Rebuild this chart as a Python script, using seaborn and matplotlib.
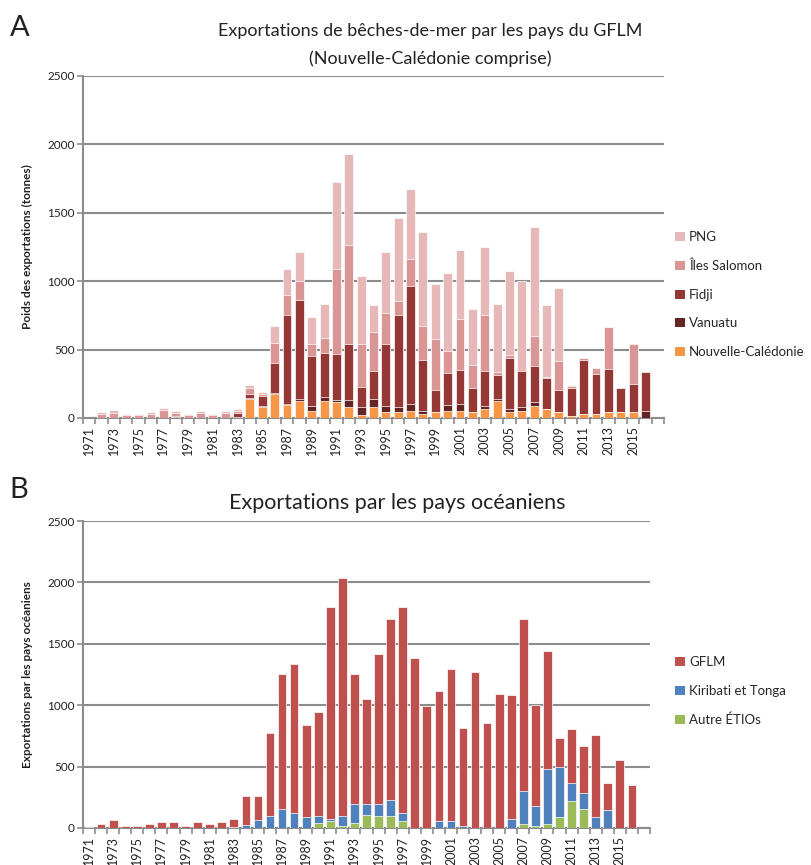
import numpy as np
import pandas as pd
import matplotlib
matplotlib.use("Agg")
import matplotlib.pyplot as plt
import seaborn as sns
from matplotlib.patches import Patch

# ---------------- data ----------------
years = [str(y) for y in range(1971, 2017)] + [""]          # 47 categories, last one blank
tick_labels = [y if i % 2 == 0 else "" for i, y in enumerate(years)]

# Panel A (tonnes)
nc = [0, 0, 0, 0, 0, 0, 0, 0, 0, 0, 0, 0, 0, 140, 78, 178, 93, 127, 54, 127,
      115, 78, 24, 78, 41, 41, 54, 29, 41, 54, 54, 41, 66, 127, 41, 54, 90, 66,
      41, 17, 29, 29, 41, 41, 41, 0, 0]
vanuatu = [0, 0, 0, 0, 0, 0, 0, 4, 0, 0, 0, 0, 8, 8, 10, 5, 12, 10, 37, 24,
           20, 56, 54, 59, 44, 39, 49, 20, 0, 39, 49, 0, 20, 10, 24, 24, 24, 0,
           0, 0, 0, 0, 0, 0, 0, 49, 0]
fidji = [0, 0, 0, 0, 0, 0, 0, 8, 0, 0, 0, 0, 30, 30, 73, 220, 645, 725, 361, 325,
         330, 405, 149, 205, 454, 671, 861, 378, 161, 234, 251, 176, 256, 176, 373,
         264, 263, 225, 161, 203, 398, 295, 320, 176, 210, 290, 0]
salomon = [0, 30, 40, 22, 22, 30, 55, 28, 20, 40, 20, 35, 15, 42, 15, 142, 149, 139,
           88, 112, 625, 722, 312, 285, 225, 107, 200, 249, 376, 163, 373, 171, 410,
           24, 24, 0, 220, 10, 212, 12, 12, 39, 303, 0, 288, 0, 0]
png = [0, 12, 16, 10, 10, 11, 16, 14, 12, 14, 12, 19, 15, 20, 12, 124, 190, 212,
       200, 242, 637, 666, 498, 198, 449, 603, 512, 686, 398, 571, 498, 412, 500,
       493, 610, 659, 800, 525, 537, 12, 0, 0, 0, 0, 0, 0, 0]

# Panel B (tonnes)
gflm = [5, 30, 63, 16, 16, 30, 52, 52, 16, 52, 30, 52, 71, 232, 196, 670, 1098,
        1218, 749, 845, 1728, 1935, 1057, 850, 1218, 1472, 1679, 1382, 992, 1063,
        1238, 799, 1267, 853, 1093, 1006, 1398, 824, 964, 243, 439, 385, 673, 224,
        553, 354, 0]
kiribati_tonga = [0, 0, 0, 0, 0, 0, 0, 0, 0, 0, 0, 0, 5, 27, 63, 101, 158, 120, 87,
                  60, 19, 79, 161, 90, 101, 128, 68, 0, 0, 54, 54, 19, 0, 0, 0, 76,
                  270, 163, 450, 406, 147, 125, 87, 144, 0, 0, 0]
autres = [0, 0, 0, 0, 0, 0, 0, 0, 0, 0, 0, 0, 0, 0, 0, 0, 0, 0, 3, 38, 54, 19, 38,
          109, 98, 98, 54, 0, 0, 0, 0, 0, 0, 0, 0, 0, 30, 16, 30, 87, 218, 158, 0,
          0, 3, 0, 0]

series_a = ["Nouvelle-Calédonie", "Vanuatu", "Fidji", "Îles Salomon", "PNG"]
colors_a = ["#F79646", "#632523", "#953735", "#D99694", "#E6B9B8"]
series_b = ["Autre ÉTIOs", "Kiribati et Tonga", "GFLM"]
colors_b = ["#9BBB59", "#4F81BD", "#C0504D"]

# ---------------- style ----------------
sns.set_theme(style="white")
plt.rcParams["font.family"] = ["Lato", "DejaVu Sans"]

fig = plt.figure(figsize=(8.12, 8.65), dpi=100)
W, H = 812, 865

def axes_px(l, t, r, b):
    return fig.add_axes([l / W, 1 - b / H, (r - l) / W, (b - t) / H])

axA = axes_px(83, 76, 664, 418)
axB = axes_px(83, 521, 650, 828)

GRID = "#8c8c8c"
TXT = "#222222"


def stacked(ax, layers, names, colors):
    df = pd.DataFrame({"annee": years})
    cum = np.zeros(len(years))
    cums = []
    for vals in layers:
        cum = cum + np.array(vals, dtype=float)
        cums.append(cum.copy())
    # draw from top of stack down so lower layers overlay upper ones
    for c, col in zip(cums[::-1], colors[::-1]):
        d = df.assign(v=c)
        sns.barplot(data=d, x="annee", y="v", order=years, color=col,
                    saturation=1, width=0.72, edgecolor="white", linewidth=0.5,
                    ax=ax, zorder=3)


def style_axis(ax, ylab):
    ax.set_ylim(0, 2500)
    ax.set_xlim(-0.5, len(years) - 0.5)
    ax.set_yticks(range(0, 2501, 500))
    ax.set_yticklabels([str(v) for v in range(0, 2501, 500)], fontsize=8.5, color=TXT)
    ax.yaxis.grid(True, color=GRID, linewidth=1.5, zorder=0)
    ax.set_axisbelow(True)
    for s in ["top", "right"]:
        ax.spines[s].set_visible(False)
    for s in ["left", "bottom"]:
        ax.spines[s].set_color(GRID)
        ax.spines[s].set_linewidth(1.5)
    ax.tick_params(axis="y", length=4, color=GRID, width=1.2, left=True, pad=2)
    ax.set_xticks(range(len(years)))
    ax.set_xticklabels(tick_labels, rotation=90, fontsize=9, color=TXT)
    ax.tick_params(axis="x", which="major", length=0, pad=6)
    ax.set_xticks(np.arange(-0.5, len(years)), minor=True)
    ax.tick_params(axis="x", which="minor", length=4, color=GRID, width=1.2,
                   bottom=True)
    ax.set_xlabel("")
    ax.set_ylabel(ylab, fontsize=8.5, fontweight="bold", color=TXT, labelpad=10)


stacked(axA, [nc, vanuatu, fidji, salomon, png], series_a, colors_a)
style_axis(axA, "Poids des exportations (tonnes)")
stacked(axB, [autres, kiribati_tonga, gflm], series_b, colors_b)
style_axis(axB, "Exportations par les pays océaniens")

# legends
leg_kw = dict(loc="upper left", frameon=False, fontsize=9.5, handlelength=0.7,
              handleheight=0.7, handletextpad=0.35, labelspacing=1.25,
              borderaxespad=0)
hA = [Patch(facecolor=c, edgecolor="none") for c in colors_a[::-1]]
fig.legend(hA, series_a[::-1], bbox_to_anchor=(670 / W, 1 - 226 / H), **leg_kw)
hB = [Patch(facecolor=c, edgecolor="none") for c in colors_b[::-1]]
fig.legend(hB, series_b[::-1], bbox_to_anchor=(670 / W, 1 - 651 / H), **leg_kw)

# titles and panel letters
fig.text(430 / W, 1 - 31 / H, "Exportations de bêches-de-mer par les pays du GFLM",
         ha="center", va="center", fontsize=13, color=TXT)
fig.text(430 / W, 1 - 59 / H, "(Nouvelle-Calédonie comprise)",
         ha="center", va="center", fontsize=13, color=TXT)
fig.text(397 / W, 1 - 503 / H, "Exportations par les pays océaniens",
         ha="center", va="center", fontsize=15.5, color=TXT)
fig.text(20 / W, 1 - 28 / H, "A", ha="center", va="center", fontsize=21, color=TXT)
fig.text(19 / W, 1 - 490 / H, "B", ha="center", va="center", fontsize=21, color=TXT)

fig.savefig("out.png", dpi=100)
